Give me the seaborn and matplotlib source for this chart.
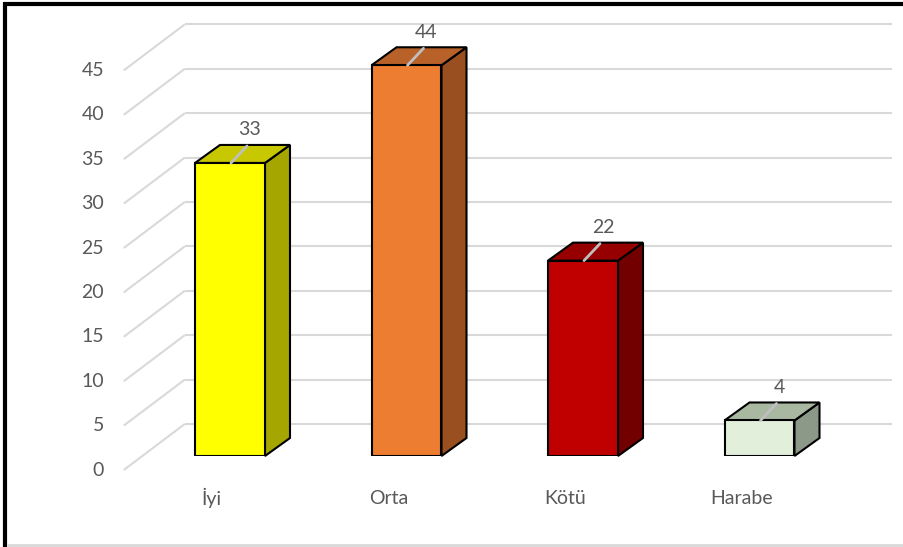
import matplotlib
matplotlib.use("Agg")
import matplotlib.pyplot as plt
from matplotlib.patches import Polygon
from matplotlib.transforms import offset_copy
import seaborn as sns
import numpy as np

# ---- data ----
categories = ["İyi", "Orta", "Kötü", "Harabe"]
values = [33, 44, 22, 4]
y_ticks = [0, 5, 10, 15, 20, 25, 30, 35, 40, 45]
front_colors = ["#FFFF00", "#ED7D31", "#C00000", "#E2EFDA"]
top_colors = ["#C8C800", "#B8622A", "#960000", "#A9B8A0"]
side_colors = ["#A6A600", "#9A4F20", "#730000", "#8D9988"]

sns.set_theme(style="white")
plt.rcParams["font.family"] = ["Lato", "DejaVu Sans"]

W, H = 904, 547
fig = plt.figure(figsize=(W / 100, H / 100), dpi=100)
fig.patch.set_facecolor("white")

# background pixel axes
bg = fig.add_axes([0, 0, 1, 1], zorder=0)
bg.set_xlim(0, W)
bg.set_ylim(H, 0)
bg.axis("off")

# bar (front plane) axes
left_px, right_px, bottom_px = 141.75, 847.75, 456
scale = 8.88
ymax = 45
ax = fig.add_axes([left_px / W, (H - bottom_px) / H, (right_px - left_px) / W, ymax * scale / H], zorder=2)
ax.patch.set_alpha(0)

sns.barplot(x=categories, y=values, hue=categories, palette=front_colors, width=0.3966,
            saturation=1, edgecolor="black", linewidth=1.5, legend=False, ax=ax, zorder=3)
ax.set_xlim(-0.5, 3.5)
ax.set_ylim(0, ymax)
ax.axis("off")

def to_px(x, y):
    d = ax.transData.transform((x, y))
    return d[0], H - d[1]

def to_data(px, py):
    return ax.transData.inverted().transform((px, H - py))

grid_c = "#D9D9D9"
text_c = "#595959"
FS = 14
DX, DY = 25, 18
# walls / gridlines
for v in y_ticks:
    xf, yf = to_px(-0.5, v)
    bg.plot([xf - 18, xf + 43], [yf + 14, yf - 32], color=grid_c, lw=1.5, solid_capstyle="butt")
    bg.plot([xf + 43, 892], [yf - 32, yf - 32], color=grid_c, lw=1.5, solid_capstyle="butt")
    bg.text(104, yf + 14, str(v), ha="right", va="center", fontsize=FS, color=text_c)

# 3d faces
for i, p in enumerate(ax.patches):
    x0 = p.get_x()
    x1 = x0 + p.get_width()
    h = p.get_height()
    lx, ty = to_px(x0, h)
    rx, by = to_px(x1, 0)
    side = [(rx, by), (rx, ty), (rx + DX, ty - DY), (rx + DX, by - DY)]
    top = [(lx, ty), (rx, ty), (rx + DX, ty - DY), (lx + DX, ty - DY)]
    ax.add_patch(Polygon([to_data(*q) for q in side], closed=True, facecolor=side_colors[i],
                         edgecolor="black", lw=1.5, zorder=2, clip_on=False))
    ax.add_patch(Polygon([to_data(*q) for q in top], closed=True, facecolor=top_colors[i],
                         edgecolor="black", lw=1.5, zorder=2, clip_on=False))
    cx = (lx + rx) / 2
    a = to_data(cx + 1, ty)
    b = to_data(cx + 17, ty - 17)
    ax.plot([a[0], b[0]], [a[1], b[1]], color="#BFBFBF", lw=2, zorder=4, clip_on=False)
    tr = offset_copy(ax.transData, fig=fig, x=20, y=33, units="dots")
    ax.text(x0 + p.get_width() / 2, h, str(values[i]), transform=tr, ha="center", va="center",
            fontsize=FS, color=text_c, zorder=5)
    tr2 = offset_copy(ax.transData, fig=fig, x=-18, y=-42, units="dots")
    ax.text(x0 + p.get_width() / 2, 0, categories[i], transform=tr2, ha="center", va="center",
            fontsize=FS, color=text_c)

# frame lines
bg.plot([5.5, 5.5], [2, H], color="black", lw=3, solid_capstyle="butt")
bg.plot([4, W], [3.5, 3.5], color="black", lw=3, solid_capstyle="butt")
bg.plot([7, W], [545, 545], color="#D9D9D9", lw=2, solid_capstyle="butt")

fig.savefig("out.png", dpi=100)
